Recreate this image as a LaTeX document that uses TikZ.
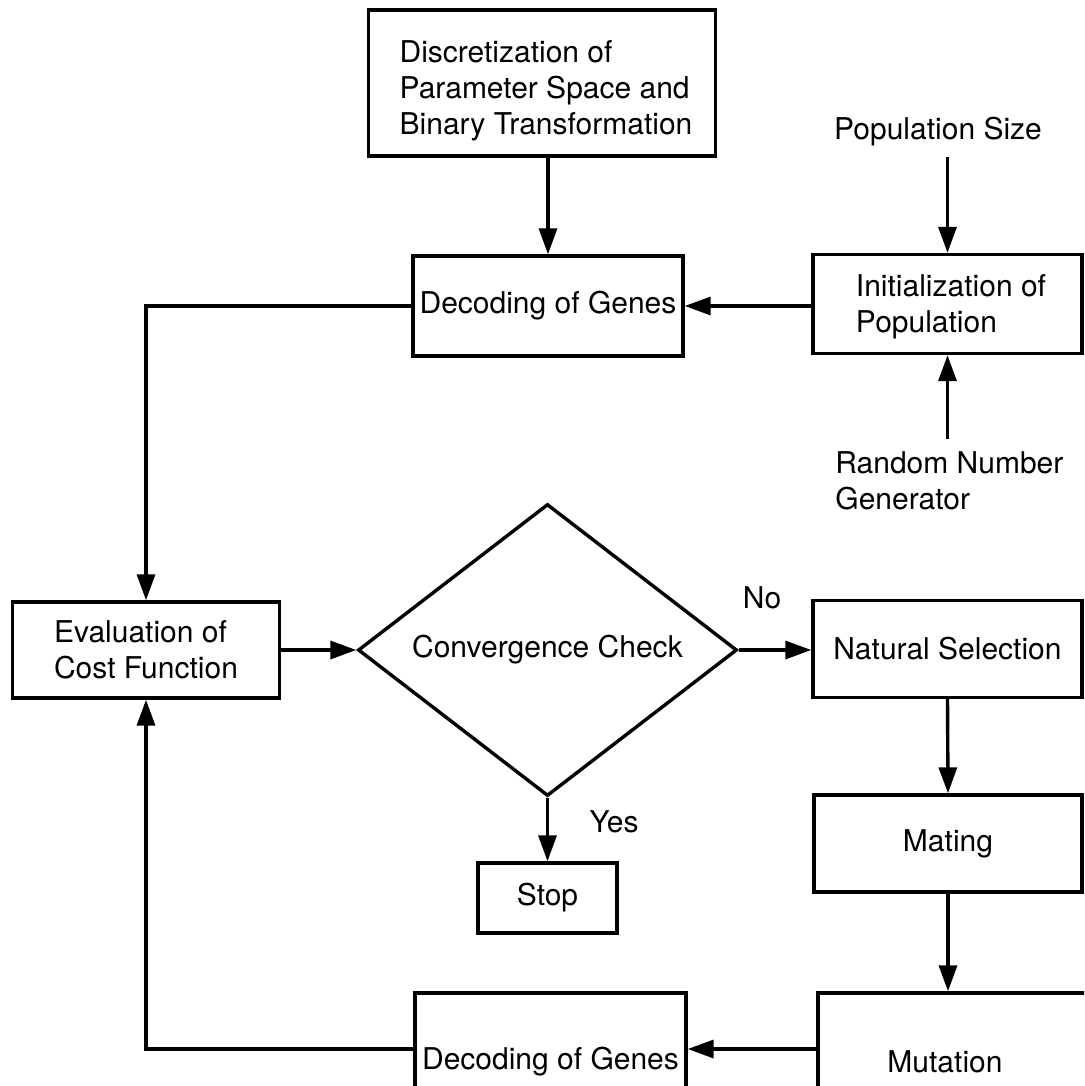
\documentclass[tikz,border=0pt]{standalone}
\usepackage{fontspec}
\setmainfont{TeX Gyre Heros}
\usetikzlibrary{arrows.meta,shapes.geometric}

\begin{document}
\begin{tikzpicture}[x=0.5pt,y=-0.5pt,
  every node/.style={font=\fontsize{15pt}{18pt}\selectfont},
  box/.style={draw, line width=1.7pt, inner sep=0pt, align=left},
  lbl/.style={inner sep=0pt, align=left},
  arr/.style={line width=1.7pt, -{Triangle[length=13pt,width=9pt]}},
  link/.style={line width=1.7pt}]

\clip (0,0) rectangle (1084,1086);

% upper part: encoding and initial population
\node[box, minimum width=173.5pt, minimum height=73pt] (disc) at (542,83) {};
\node[lbl] (disctext) at (546,91)
  {Discretization of\\Parameter Space and\\Binary Transformation};
\node[box, minimum width=135pt, minimum height=50pt] (decA) at (548,306)
  {Decoding of Genes};
\node[box, minimum width=134.5pt, minimum height=49.5pt] (init) at (947.5,304) {};
\node[lbl] (inittext) at (951,307) {Initialization of\\Population};
\node[lbl] (pop) at (938,132) {Population Size};
\node[lbl, anchor=west] (rng) at (835,481) {Random Number\\Generator};

% main loop
\node[box, minimum width=133.5pt, minimum height=48pt] (eval) at (146,650)
  {Evaluation of\\Cost Function};
\node[diamond, draw, line width=1.7pt, inner sep=0pt,
      minimum width=189.5pt, minimum height=146pt] (conv) at (547.5,650) {};
\node[lbl] (convtext) at (conv) {Convergence Check};
\node[box, minimum width=134.5pt, minimum height=48.5pt] (ns) at (947.5,649)
  {Natural Selection};
\node[box, minimum width=134pt, minimum height=48.5pt] (mate) at (948,843.5)
  {Mating};
\node[box, minimum width=69.5pt, minimum height=35pt] (stop) at (547.5,898)
  {Stop};

% lower boxes run past the bottom edge
\node[box, minimum width=136pt, minimum height=69pt] (mut) at (954,1062) {};
\node[lbl] (muttext) at (945,1062) {Mutation};
\node[box, minimum width=135.5pt, minimum height=69pt] (decB) at (550.5,1062)
  {Decoding of Genes};
\coordinate (low) at (0,1049);

% branch labels
\node[lbl] (no) at (762,598) {No};
\node[lbl] (yes) at (614,822) {Yes};

% connectors
\draw[arr] (decA.north |- disc.south) -- (decA.north);
\draw[arr] ([yshift=-5pt]init.north |- pop.south) -- (init.north);
\draw[arr] ([yshift=6pt]init.south |- rng.north) -- (init.south);
\draw[arr] (init.west |- decA.east) -- (decA.east);
\draw[arr] (decA.west) -| (eval.north);
\draw[arr] (eval.east) -- (conv.west);
\draw[arr] (conv.east) -- (conv.east -| ns.west);
\draw[arr] (conv.south) -- (stop.north);
\draw[arr] (ns.south) -- (mate.north);
\draw[arr] (mate.south) -- (mate.south |- mut.north);
\draw[arr] (mut.west |- low) -- (decB.east |- low);
\draw[arr] (decB.west |- low) -| (eval.south);
\end{tikzpicture}
\end{document}
